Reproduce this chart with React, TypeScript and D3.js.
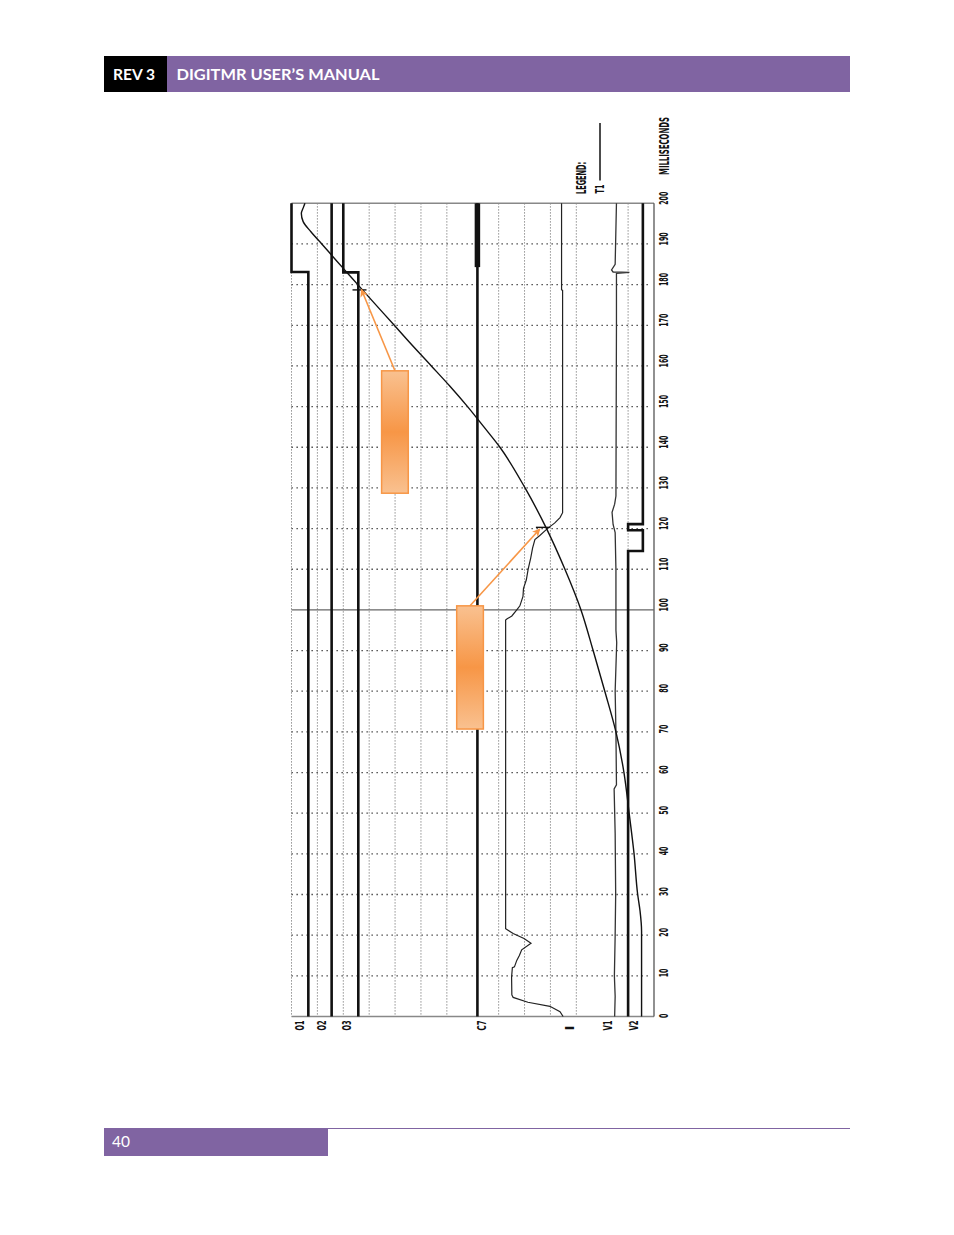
import { useEffect, useRef } from 'react';
import * as d3 from 'd3';

const W = 954;
const H = 1235;

// recorder strip is printed sideways: time runs bottom -> top, channels left -> right
const TIME_TICKS = [0, 10, 20, 30, 40, 50, 60, 70, 80, 90, 100, 110, 120, 130, 140, 150, 160, 170, 180, 190, 200];
const CHANNELS = ['O1', 'O2', 'O3', 'C7', 'I', 'V1', 'V2'];
const CHANNEL_LABEL_POS = [0.29, 1.17, 2.14, 7.34, 10.75, 12.2, 13.22];
const GRID_COLUMNS = [0, 1, 2, 3, 4, 5, 6, 8, 9, 10, 11, 13];

// digital channels: [ms, level], level holds until the next entry
const O1: [number, number][] = [[0, 0.65], [183.1, 0], [200, 0]];
const O2: [number, number][] = [[0, 1.55], [200, 1.55]];
const O3: [number, number][] = [[0, 2.58], [183.0, 2.0], [200, 2.0]];
const C7: [number, number][] = [[0, 7.18], [200, 7.18]];
const C7_ENERGIZED = [184.3, 200];
const V2: [number, number][] = [[0, 13.0], [114.5, 13.57], [119.6, 13.0], [121.1, 13.57], [200, 13.57]];

// analog channels: [ms, level]
const T1: [number, number][] = [
  [0, 13.52], [21, 13.52], [26, 13.46], [30, 13.37], [40, 13.23], [50, 13.04], [60, 12.84],
  [70, 12.53], [80, 12.1], [90, 11.65], [100, 11.18], [110, 10.56], [120, 9.85], [130, 9.02],
  [140, 8.05], [145, 7.43], [150, 6.8], [155, 6.12], [160, 5.4], [166, 4.53],
  [170, 3.97], [176, 3.12], [180, 2.56], [183, 2.14], [186, 1.72], [190, 1.17], [193, 0.75],
  [195.5, 0.45], [197.5, 0.38], [199, 0.46], [200, 0.52],
];
const I_TRACE: [number, number][] = [
  [0, 10.49], [1.2, 10.37], [2.5, 9.98], [3.5, 9.13], [4.7, 8.56], [5.3, 8.51], [9.7, 8.5],
  [12, 8.53], [12.2, 8.61], [13.8, 8.7], [15, 8.8], [16.4, 8.89], [18, 9.25], [19.2, 8.98],
  [20.4, 8.56], [21.6, 8.27], [97.5, 8.27], [97.8, 8.33], [98.5, 8.51], [100, 8.7], [101, 8.82],
  [103.3, 8.94], [105.3, 8.96], [107.4, 9.07], [110, 9.14], [112.8, 9.24], [115.2, 9.31],
  [117.3, 9.4], [118.3, 9.59], [119.8, 9.85], [121.4, 10.17], [122.7, 10.37], [123.9, 10.47],
  [178.6, 10.47], [178.7, 10.43], [200, 10.43],
];
const V1: [number, number][] = [
  [0, 12.48], [5, 12.5], [10, 12.47], [20, 12.5], [30, 12.52], [45, 12.5], [56, 12.46],
  [57, 12.55], [70, 12.53], [80, 12.5], [92, 12.56], [95, 12.53], [110, 12.53], [119, 12.5],
  [121, 12.42], [124, 12.38], [126, 12.48], [128, 12.53], [170, 12.55], [182.8, 12.55],
  [183.0, 13.05], [183.1, 12.42], [183.6, 12.36], [185, 12.5], [200, 12.55],
];

const CURSOR_TIMES = [178.7, 120.3];
const CURSOR_LINE = 100;

// orange callouts: box [u0, u1, tTop, tBottom], arrow tip [u, t]
const CALLOUTS = [
  { box: [3.48, 4.51, 158.8, 128.7], tip: [2.7, 178.8] },
  { box: [6.38, 7.41, 101, 70.7], tip: [9.59, 119.9] },
];

const PURPLE = '#8064A2';
const ORANGE = '#F79646';
const MONO = '"DejaVu Sans Condensed", "DejaVu Sans", sans-serif';

export default function App() {
  const svgRef = useRef<SVGSVGElement>(null);

  useEffect(() => {
    if (!svgRef.current) return;
    const svg = d3.select(svgRef.current);
    svg.selectAll('*').remove();

    const x = d3.scaleLinear().domain([0, 14]).range([291.5, 654]);
    const y = d3.scaleLinear().domain([0, 200]).range([1016.5, 203.3]);

    const defs = svg.append('defs');
    const grad = defs.append('linearGradient').attr('id', 'callout-grad')
      .attr('x1', '0%').attr('y1', '0%').attr('x2', '0%').attr('y2', '100%');
    grad.append('stop').attr('offset', '0%').attr('stop-color', '#F9C190');
    grad.append('stop').attr('offset', '50%').attr('stop-color', ORANGE);
    grad.append('stop').attr('offset', '100%').attr('stop-color', '#F9C190');
    defs.append('marker').attr('id', 'arrow')
      .attr('viewBox', '0 0 10 10').attr('refX', 9).attr('refY', 5)
      .attr('markerUnits', 'userSpaceOnUse').attr('markerWidth', 9).attr('markerHeight', 8)
      .attr('orient', 'auto')
      .append('path').attr('d', 'M0,0 L10,5 L0,10 L2.5,5 z').attr('fill', ORANGE);

    // ── page header / footer ──
    svg.append('rect').attr('x', 104).attr('y', 56).attr('width', 746).attr('height', 36).attr('fill', PURPLE);
    svg.append('rect').attr('x', 104).attr('y', 56).attr('width', 63).attr('height', 36).attr('fill', '#000');
    svg.append('text').attr('x', 113).attr('y', 79.5)
      .attr('font-family', 'Lato, "Open Sans", sans-serif').attr('font-weight', 700).attr('font-size', 15.5)
      .attr('fill', '#fff').attr('textLength', 42).attr('lengthAdjust', 'spacingAndGlyphs').text('REV 3');
    svg.append('text').attr('x', 176.5).attr('y', 79.5)
      .attr('font-family', 'Lato, "Open Sans", sans-serif').attr('font-weight', 700).attr('font-size', 15.5)
      .attr('fill', '#fff').attr('textLength', 203).attr('lengthAdjust', 'spacingAndGlyphs')
      .text('DIGITMR USER\u2019S MANUAL');

    svg.append('line').attr('x1', 104).attr('x2', 850).attr('y1', 1128.5).attr('y2', 1128.5)
      .attr('stroke', PURPLE).attr('stroke-width', 1);
    svg.append('rect').attr('x', 104).attr('y', 1128).attr('width', 224).attr('height', 28).attr('fill', PURPLE);
    svg.append('text').attr('x', 112).attr('y', 1146.5)
      .attr('font-family', 'Lato, "Open Sans", sans-serif').attr('font-size', 15.5)
      .attr('fill', '#fff').text('40');

    // ── grid ──
    const g = svg.append('g');
    g.selectAll('line.hgrid')
      .data(TIME_TICKS.filter(t => t > 0 && t < 200 && t !== CURSOR_LINE))
      .join('line').attr('class', 'hgrid')
      .attr('x1', x(0)).attr('x2', x(14) - 4)
      .attr('y1', d => y(d)).attr('y2', d => y(d))
      .attr('stroke', '#333').attr('stroke-width', 1.3).attr('stroke-dasharray', '1.3 3.7');
    g.selectAll('line.vgrid')
      .data(GRID_COLUMNS)
      .join('line').attr('class', 'vgrid')
      .attr('x1', d => x(d)).attr('x2', d => x(d))
      .attr('y1', y(200)).attr('y2', y(0))
      .attr('stroke', '#777').attr('stroke-width', 1).attr('stroke-dasharray', '1.2 1.8');

    // frame
    g.append('line').attr('x1', x(0)).attr('x2', x(14)).attr('y1', y(200)).attr('y2', y(200))
      .attr('stroke', '#888').attr('stroke-width', 1.6);
    g.append('line').attr('x1', x(0)).attr('x2', x(14)).attr('y1', y(0)).attr('y2', y(0))
      .attr('stroke', '#888').attr('stroke-width', 1.6);
    g.append('line').attr('x1', x(14)).attr('x2', x(14)).attr('y1', y(200)).attr('y2', y(0))
      .attr('stroke', '#555').attr('stroke-width', 1.3);
    g.append('line').attr('x1', x(0)).attr('x2', x(14)).attr('y1', y(CURSOR_LINE)).attr('y2', y(CURSOR_LINE))
      .attr('stroke', '#666').attr('stroke-width', 1.3);

    // ── traces ──
    const digital = d3.line<[number, number]>().x(d => x(d[1])).y(d => y(d[0])).curve(d3.curveStepBefore);
    const analog = d3.line<[number, number]>().x(d => x(d[1])).y(d => y(d[0]));

    [O1, O2, O3, C7, V2].forEach(series => {
      g.append('path').attr('d', digital(series)).attr('fill', 'none')
        .attr('stroke', '#111').attr('stroke-width', 2.6);
    });
    g.append('line').attr('x1', x(C7[0][1])).attr('x2', x(C7[0][1]))
      .attr('y1', y(C7_ENERGIZED[1])).attr('y2', y(C7_ENERGIZED[0]))
      .attr('stroke', '#111').attr('stroke-width', 5.5);

    g.append('path').attr('d', analog(V1)).attr('fill', 'none')
      .attr('stroke', '#333').attr('stroke-width', 1.3);
    g.append('path').attr('d', analog(I_TRACE)).attr('fill', 'none')
      .attr('stroke', '#222').attr('stroke-width', 1.2);
    g.append('path').attr('d', analog.curve(d3.curveMonotoneY)(T1)).attr('fill', 'none')
      .attr('stroke', '#111').attr('stroke-width', 1.4);

    // cursor marks on T1
    const t1At = d3.scaleLinear().domain(T1.map(d => d[0])).range(T1.map(d => d[1]));
    g.selectAll('line.cursor')
      .data(CURSOR_TIMES)
      .join('line').attr('class', 'cursor')
      .attr('x1', d => x(t1At(d)) - 10).attr('x2', d => x(t1At(d)) + 4)
      .attr('y1', d => y(d)).attr('y2', d => y(d))
      .attr('stroke', '#111').attr('stroke-width', 1.4);

    // ── axis text (rotated like the printout) ──
    const axisText = svg.append('g').attr('font-family', MONO).attr('font-weight', 700).attr('fill', '#111');
    TIME_TICKS.forEach(t => {
      const s = String(t);
      axisText.append('text')
        .attr('transform', `translate(668,${y(t) + 1.5}) rotate(-90)`)
        .attr('font-size', 12)
        .attr('textLength', s.length * 4.4).attr('lengthAdjust', 'spacingAndGlyphs')
        .text(s);
    });
    axisText.append('text')
      .attr('transform', 'translate(668.5,175) rotate(-90)')
      .attr('font-size', 14)
      .attr('textLength', 58).attr('lengthAdjust', 'spacingAndGlyphs')
      .text('MILLISECONDS');
    CHANNELS.forEach((c, i) => {
      axisText.append('text')
        .attr('transform', `translate(${x(CHANNEL_LABEL_POS[i]) + 4.5},1030.5) rotate(-90)`)
        .attr('font-size', 11.5)
        .attr('textLength', c.length * 5).attr('lengthAdjust', 'spacingAndGlyphs')
        .text(c);
    });

    // legend
    axisText.append('text')
      .attr('transform', 'translate(585.5,194) rotate(-90)')
      .attr('font-size', 14)
      .attr('textLength', 32).attr('lengthAdjust', 'spacingAndGlyphs')
      .text('LEGEND:');
    axisText.append('text')
      .attr('transform', 'translate(603.5,193.5) rotate(-90)')
      .attr('font-size', 12)
      .attr('textLength', 9).attr('lengthAdjust', 'spacingAndGlyphs')
      .text('T1');
    svg.append('line').attr('x1', 600).attr('x2', 600).attr('y1', 123).attr('y2', 180.5)
      .attr('stroke', '#111').attr('stroke-width', 1.5);

    // ── orange callouts ──
    const co = svg.append('g');
    CALLOUTS.forEach(({ box, tip }) => {
      const [u0, u1, tTop, tBot] = box;
      co.append('rect')
        .attr('x', x(u0)).attr('y', y(tTop))
        .attr('width', x(u1) - x(u0)).attr('height', y(tBot) - y(tTop))
        .attr('fill', 'url(#callout-grad)')
        .attr('stroke', ORANGE).attr('stroke-width', 1.5);
      co.append('line')
        .attr('x1', (x(u0) + x(u1)) / 2).attr('y1', y(tTop))
        .attr('x2', x(tip[0])).attr('y2', y(tip[1]))
        .attr('stroke', ORANGE).attr('stroke-width', 1.6)
        .attr('marker-end', 'url(#arrow)');
    });
  }, []);

  return (
    <div style={{ position: 'absolute', left: 0, top: 0, width: W, height: H, background: '#fff' }}>
      <svg ref={svgRef} width={W} height={H} style={{ display: 'block' }} />
    </div>
  );
}
